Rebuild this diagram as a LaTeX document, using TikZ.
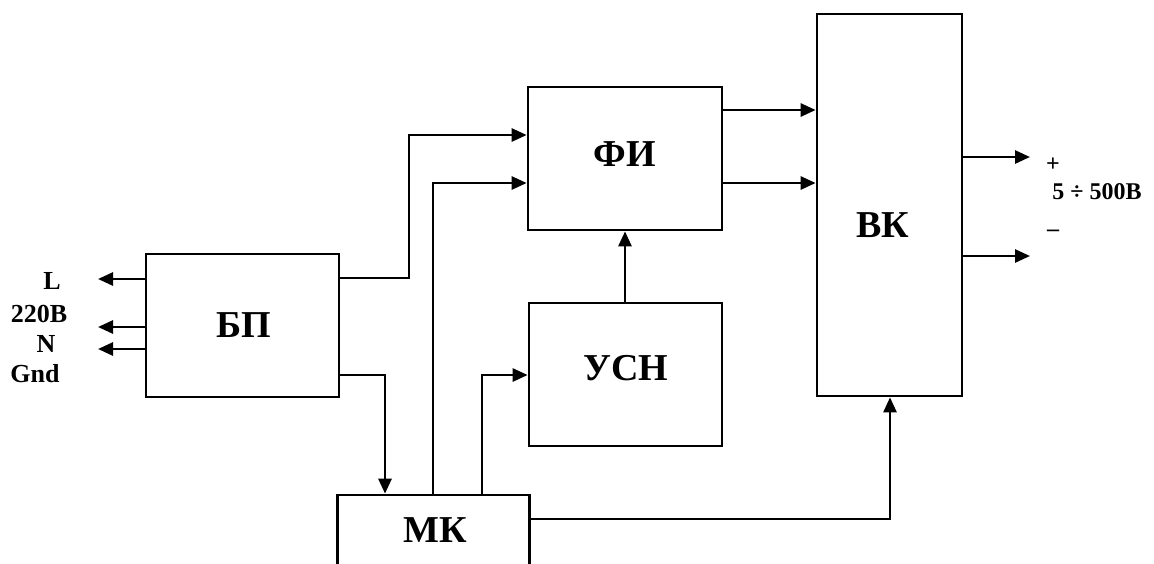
\documentclass[tikz,border=0pt]{standalone}
\usepackage{fontspec}
\setmainfont{Liberation Serif}
\usetikzlibrary{arrows.meta}
\begin{document}
\begin{tikzpicture}[x=0.5pt,y=-0.5pt,
  blk/.style={draw,line width=1.35pt,rectangle,inner sep=0pt},
  btext/.style={inner sep=0pt,font=\bfseries\fontsize{19}{21}\selectfont},
  conn/.style={line width=1.35pt,-{Triangle[length=7.5pt,width=6.5pt]}},
  lbl/.style={inner sep=0pt,font=\bfseries\fontsize{13}{15}\selectfont},
  olbl/.style={inner sep=0pt,font=\bfseries\fontsize{12}{14}\selectfont}]
\useasboundingbox (0,0) rectangle (1154,563);
% boxes
\node[blk,minimum width=97pt,minimum height=71.5pt] (FI) at (625,158.5) {};
\node[blk,minimum width=96.5pt,minimum height=71.5pt] (USN) at (625.5,374.5) {};
\node[blk,minimum width=96.5pt,minimum height=71.5pt] (BP) at (242.5,325.5) {};
\node[blk,minimum width=72.5pt,minimum height=191pt] (VK) at (889.5,205) {};
\node[blk,minimum width=96pt,minimum height=38pt] (MK) at (433.5,533) {};
% box texts
\node[btext] (FIt) at (625,154) {ФИ};
\node[btext] (USNt) at (626,368) {УСН};
\node[btext] (BPt) at (244,325) {БП};
\node[btext] (VKt) at (883,225) {ВК};
\node[btext] (MKt) at (435,530) {МК};
% labels
\node[lbl] (L) at (52,281) {L};
\node[lbl] (V220) at (39,314) {220В};
\node[lbl] (N) at (46,344) {N};
\node[lbl] (Gnd) at (35,374) {Gnd};
\node[olbl] (plus) at (1053,165) {+};
\node[olbl,anchor=west] (volt) at (1052,192) {5 ÷ 500В};
\node[olbl] (minus) at (1053,233) {–};
% free ends
\coordinate (a1) at (98,279);
\coordinate (a2) at (98,327);
\coordinate (a3) at (98,349);
\coordinate (o1) at (1030,157);
\coordinate (o2) at (1030,256);
% BP mains
\draw[conn] (BP.west |- a1) -- (a1);
\draw[conn] (BP.west |- a2) -- (a2);
\draw[conn] (BP.west |- a3) -- (a3);
% BP -> FI
\draw[conn] (BP.east |- 0,278) -- (409,278) -- (409,135) -- (FI.west |- 0,135);
% BP -> MK
\draw[conn] (BP.east |- 0,375) -- (385,375) -- (MK.north -| 385,0);
% MK -> FI
\draw[conn] (MK.north -| 433,0) -- (433,183) -- (FI.west |- 0,183);
% MK -> USN
\draw[conn] (MK.north -| 482,0) -- (482,375) -- (USN.west |- 0,375);
% USN -> FI
\draw[conn] (USN.north -| 625,0) -- (FI.south -| 625,0);
% FI -> VK
\draw[conn] (FI.east |- 0,110) -- (VK.west |- 0,110);
\draw[conn] (FI.east |- 0,183) -- (VK.west |- 0,183);
% MK -> VK
\draw[conn] (MK.east |- 0,519) -- (890,519) -- (VK.south -| 890,0);
% VK outputs
\draw[conn] (VK.east |- o1) -- (o1);
\draw[conn] (VK.east |- o2) -- (o2);
\end{tikzpicture}
\end{document}
